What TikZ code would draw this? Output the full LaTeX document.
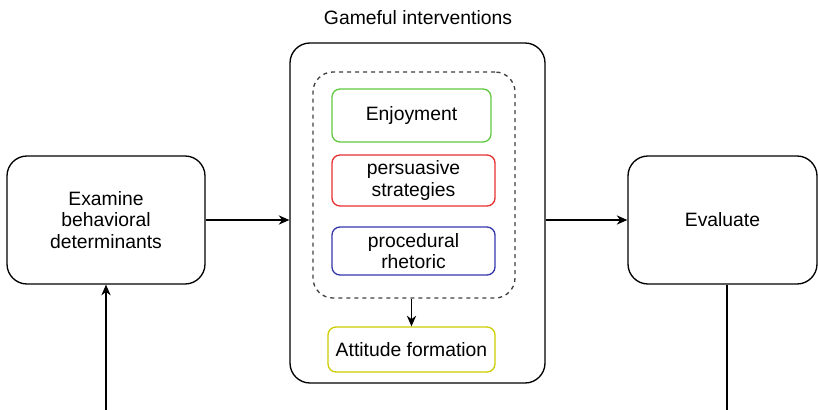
\documentclass[tikz,border=0pt]{standalone}
\usepackage{fontspec}
\setmainfont{Liberation Sans}
\usepackage{tikz}
\usetikzlibrary{arrows.meta,positioning,calc}

\definecolor{enjgreen}{RGB}{96,200,64}
\definecolor{persred}{RGB}{232,48,48}
\definecolor{procblue}{RGB}{52,56,170}
\definecolor{attyellow}{RGB}{204,204,0}

\begin{document}
\begin{tikzpicture}[
    x=0.75pt, y=-0.75pt,
    txt/.style={font=\fontsize{14.5}{16.3}\selectfont, align=center},
    bigbox/.style={draw, line width=1pt, rounded corners=15pt, txt},
    inner/.style={draw, line width=1pt, rounded corners=6pt, txt, minimum width=122.25pt, minimum height=38.25pt},
    arr/.style={-{Stealth[length=8pt,width=7pt]}, line width=1pt}
]
\clip (0,0) rectangle (818,410);

\node[txt] (title) at (418,18) {Gameful interventions};
\node[bigbox, minimum width=191.25pt, minimum height=255pt] (game) at (417.5,213) {};
\node[draw, dashed, line width=1pt, black!75, rounded corners=15pt, minimum width=151.5pt, minimum height=169.5pt] (group) at (414,185) {};

\node[inner, draw=enjgreen, minimum width=119.25pt, minimum height=39.75pt] (enj) at (411.5,115.5) {Enjoyment};
\node[inner, draw=persred] (pers) at (413.5,180.5) {persuasive\\strategies};
\node[inner, draw=procblue, minimum height=36pt] (proc) at (413.5,251) {procedural\\rhetoric};
\node[inner, draw=attyellow, minimum width=125.25pt, minimum height=33.75pt] (att) at (411.5,349.5) {Attitude formation};

\node[bigbox, minimum width=148.5pt, minimum height=96pt] (exam) at (106,220) {Examine\\behavioral\\determinants};
\node[bigbox, minimum width=141.75pt, minimum height=96pt] (eval) at (722.5,220) {Evaluate};

\draw[arr] (exam.east) -- (exam.east -| game.west);
\draw[arr] (game.east |- eval.west) -- (eval.west);
\draw[arr] (group.south -| att) -- (att);
% loop back, runs below the cut edge
\draw[arr] ([xshift=3.4pt]eval.south) -- ++(0,200) -| (exam.south);
\end{tikzpicture}
\end{document}
